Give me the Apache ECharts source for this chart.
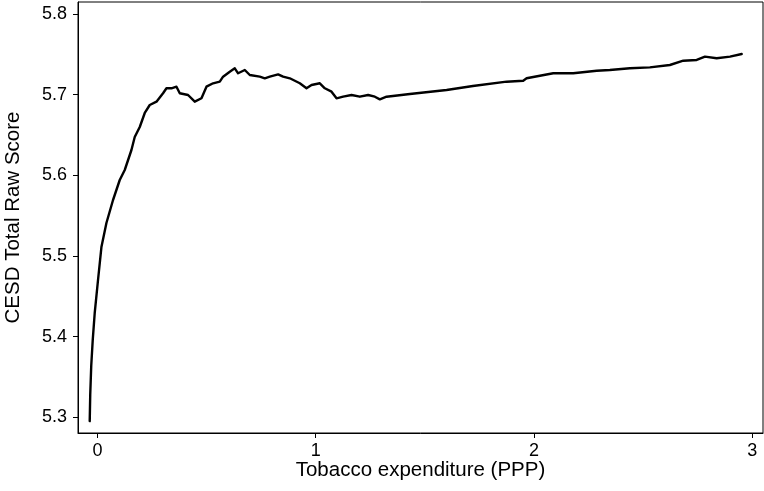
<!DOCTYPE html>
<html>
<head>
<meta charset="utf-8">
<script src="https://cdn.jsdelivr.net/npm/echarts@6/dist/echarts.min.js"></script>
<style>
  html, body { margin: 0; padding: 0; background: #fff; }
  #chart { width: 764px; height: 491px; }
</style>
</head>
<body>
<div id="chart"></div>
<script>
// Smoothed CESD score against tobacco expenditure
const expenditure = [
  -0.0353, -0.033, -0.0284, -0.0215, -0.0124, 0.0027, 0.0183, 0.0412, 0.0715, 0.1022,
  0.1251, 0.1558, 0.1709, 0.1939, 0.2168, 0.2397, 0.2704, 0.3006, 0.3162, 0.3391,
  0.3621, 0.3772, 0.4152, 0.4459, 0.4766, 0.4840, 0.4995, 0.5298, 0.5605, 0.5756,
  0.6063, 0.6292, 0.6444, 0.6751, 0.6980, 0.7438, 0.7667, 0.7897, 0.8277, 0.8506,
  0.8813, 0.9271, 0.9578, 0.9808, 1.0188, 1.0417, 1.0724, 1.0953, 1.1256, 1.1641,
  1.2021, 1.2401, 1.2709, 1.2938, 1.3245, 1.4313, 1.5995, 1.72, 1.8744, 1.9505,
  1.9661, 2.0270, 2.0880, 2.1797, 2.2869, 2.3474, 2.4391, 2.5307, 2.6224, 2.6838,
  2.7452, 2.7832, 2.8368, 2.8978, 2.9514
];
const cesdScore = [
  5.2952, 5.3277, 5.3636, 5.3958, 5.4293, 5.4702, 5.5111, 5.5409, 5.5694, 5.5942,
  5.6066, 5.6314, 5.6475, 5.6599, 5.6773, 5.6872, 5.6913, 5.7017, 5.7079, 5.7079,
  5.7099, 5.7017, 5.6996, 5.6913, 5.6955, 5.6955, 5.7099, 5.7141, 5.7161, 5.7223,
  5.7285, 5.7327, 5.7265, 5.7306, 5.7244, 5.7223, 5.7203, 5.7223, 5.7252, 5.7223,
  5.7203, 5.7141, 5.7079, 5.7120, 5.7141, 5.7079, 5.7037, 5.6955, 5.6975, 5.6996,
  5.6975, 5.6996, 5.6975, 5.6942, 5.6975, 5.7008, 5.7058, 5.7107, 5.7161, 5.7173,
  5.7203, 5.7235, 5.7265, 5.7265, 5.7297, 5.7306, 5.7327, 5.7339, 5.7368, 5.7421,
  5.7430, 5.7471, 5.7451, 5.7471, 5.7504
];
const xTicks = [0, 1, 2, 3];
const yTicks = [5.3, 5.4, 5.5, 5.6, 5.7, 5.8];

const points = expenditure.map((x, i) => [x, cesdScore[i]]);
const fontFamily = '"Liberation Sans", Arial, Helvetica, sans-serif';

const chart = echarts.init(document.getElementById('chart'), null, { renderer: 'canvas' });
chart.setOption({
  animation: false,
  backgroundColor: '#fff',
  grid: {
    left: 78, right: 1, top: 2, bottom: 58,
    outerBoundsMode: 'none',
    containLabel: false,
    show: true, borderColor: '#000', borderWidth: 1, backgroundColor: '#fff'
  },
  xAxis: {
    type: 'value',
    min: -0.089, max: 3.049,
    name: 'Tobacco expenditure (PPP)',
    nameLocation: 'middle', nameGap: 27,
    nameMoveOverlap: false,
    nameTextStyle: { color: '#000', fontSize: 20.5, fontFamily },
    axisLine: { show: true, onZero: false, lineStyle: { color: '#000', width: 1 } },
    axisTick: { show: true, length: 5, lineStyle: { color: '#000' },
      customValues: xTicks },
    axisLabel: { color: '#000', fontSize: 18, fontFamily, margin: 9,
      customValues: xTicks, formatter: v => String(v) },
    splitLine: { show: false }
  },
  yAxis: {
    type: 'value',
    min: 5.2805, max: 5.8149,
    name: 'CESD Total Raw Score',
    nameLocation: 'middle', nameGap: 54,
    nameMoveOverlap: false,
    nameTextStyle: { color: '#000', fontSize: 20.5, fontFamily },
    axisLine: { show: true, onZero: false, lineStyle: { color: '#000', width: 1 } },
    axisTick: { show: true, length: 5, lineStyle: { color: '#000' },
      customValues: yTicks },
    axisLabel: { color: '#000', fontSize: 18, fontFamily, margin: 11,
      customValues: yTicks, formatter: v => v.toFixed(1) },
    splitLine: { show: false }
  },
  series: [{
    type: 'line',
    data: points,
    showSymbol: false,
    symbol: 'none',
    lineStyle: { color: '#000', width: 2.4, join: 'round', cap: 'round' },
    clip: true
  }]
});
</script>
</body>
</html>
